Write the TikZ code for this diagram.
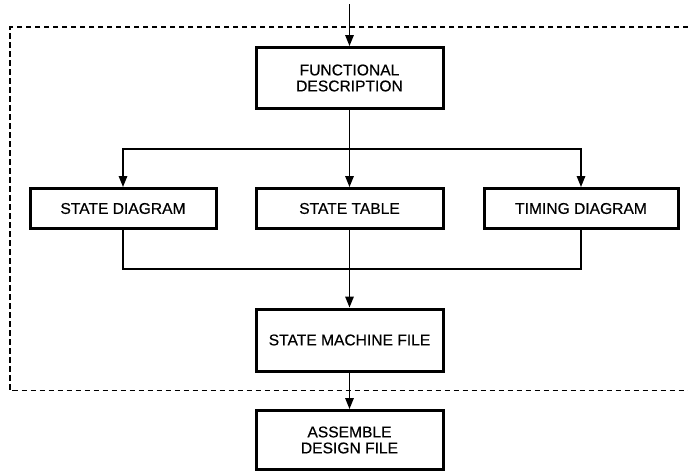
\documentclass[tikz,border=0pt]{standalone}
\usepackage{fontspec}
\setmainfont[FakeBold=0.4]{Liberation Sans}
\usetikzlibrary{arrows.meta}
\begin{document}
\begin{tikzpicture}[x=1pt,y=-1pt,
  stepbox/.style={draw, line width=3pt, minimum width=187pt, inner sep=0pt,
    align=center, font=\fontsize{15.6}{16}\selectfont},
  wire/.style={line width=1.5pt},
  arr/.style={wire, -{Triangle[width=8.5pt,length=11pt]}},
  frame/.style={line width=1.6pt, dash pattern=on 5.5pt off 3.5pt}]
\useasboundingbox (0,0) rectangle (688,471);

% dashed enclosure, open on the right
\draw[frame] (688,27) -- (10,27) -- (10,390.5) -- (688,390.5);

% blocks
\node[stepbox, minimum height=61pt] (fd) at (349.5,78) {FUNCTIONAL\\DESCRIPTION};
\node[stepbox, minimum width=186pt, minimum height=40pt] (sd) at (123,208.5) {STATE DIAGRAM};
\node[stepbox, minimum height=40pt] (st) at (349.5,208.5) {STATE TABLE};
\node[stepbox, minimum width=194pt, minimum height=40pt] (td) at (581,208.5) {TIMING DIAGRAM};
\node[stepbox, minimum height=62pt] (smf) at (349.5,340) {STATE MACHINE FILE};
\node[stepbox, minimum height=59pt] (adf) at (349.5,440) {ASSEMBLE\\DESIGN FILE};

\coordinate (in) at (349.5,4);
\coordinate (split) at (349.5,149);
\coordinate (join) at (349.5,269);

% connectors
\draw[arr] (in) -- (fd.north);
\draw[wire] (fd.south) -- (split);
\draw[arr] (split) -- (st.north);
\draw[arr] (split) -| (sd.north);
\draw[arr] (split) -| (td.north);
\draw[wire] (sd.south) |- (join) -| (td.south);
\draw[arr] (st.south) -- (smf.north);
\draw[arr] (smf.south) -- (adf.north);
\end{tikzpicture}
\end{document}
